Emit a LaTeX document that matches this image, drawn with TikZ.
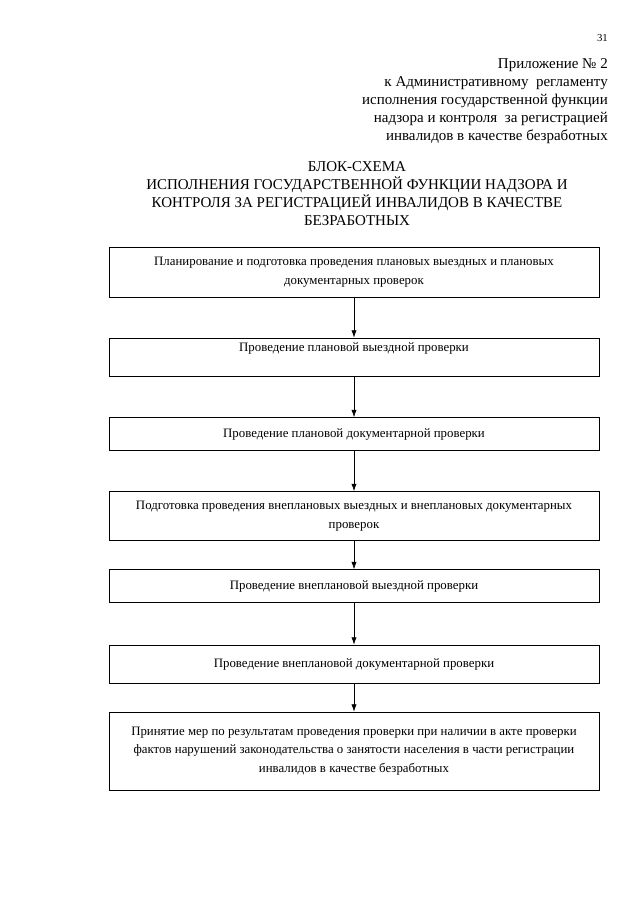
\documentclass[tikz,border=0pt]{standalone}
\usepackage{fontspec}
\setmainfont{Liberation Serif}
\usetikzlibrary{positioning,arrows.meta}

\begin{document}
\begin{tikzpicture}[x=0.328125mm,y=-0.328125mm]
\tikzstyle{blk}=[draw,line width=0.6pt,minimum width=160.8mm,align=center,font=\fontsize{12}{17.5}\selectfont];
\tikzstyle{hdr}=[inner sep=0pt,font=\fontsize{14}{16.8}\selectfont];
\tikzstyle{arr}=[-{Latex[length=2.4mm,width=1.7mm]},line width=0.6pt];

\useasboundingbox (0,0) rectangle (640,905);

% page number and header
\node[hdr,font=\fontsize{10}{12}\selectfont,anchor=east] (pg) at (608,38) {31};
\node[hdr,anchor=north east,align=right] (app) at (608,58)
  {Приложение № 2\\к Административному\ \ регламенту\\исполнения государственной функции\\надзора и контроля\ \ за регистрацией\\инвалидов в качестве безработных};

\node[hdr,align=center] (title) at (357,194)
  {БЛОК-СХЕМА\\ИСПОЛНЕНИЯ ГОСУДАРСТВЕННОЙ ФУНКЦИИ НАДЗОРА И\\КОНТРОЛЯ ЗА РЕГИСТРАЦИЕЙ ИНВАЛИДОВ В КАЧЕСТВЕ\\БЕЗРАБОТНЫХ};

% boxes
\node[blk,minimum height=16.4mm] (b1) at (354,272) {Планирование и подготовка проведения плановых выездных и плановых\\документарных проверок};
\node[blk,minimum height=12.5mm,text depth=6.2mm] (b2) at (354,357) {Проведение плановой выездной проверки};
\node[blk,minimum height=10.8mm] (b3) at (354,434) {Проведение плановой документарной проверки};
\node[blk,minimum height=16.1mm] (b4) at (354,516) {Подготовка проведения внеплановых выездных и внеплановых документарных\\проверок};
\node[blk,minimum height=10.8mm] (b5) at (354,586) {Проведение внеплановой выездной проверки};
\node[blk,minimum height=12.5mm] (b6) at (354,664) {Проведение внеплановой документарной проверки};
\node[blk,minimum height=25.6mm] (b7) at (354,751) {Принятие мер по результатам проведения проверки при наличии в акте проверки\\фактов нарушений законодательства о занятости населения в части регистрации\\инвалидов в качестве безработных};

% arrows
\foreach \a/\b in {b1/b2,b2/b3,b3/b4,b4/b5,b5/b6,b6/b7}
  \draw[arr] (\a) -- (\b);

\end{tikzpicture}
\end{document}
